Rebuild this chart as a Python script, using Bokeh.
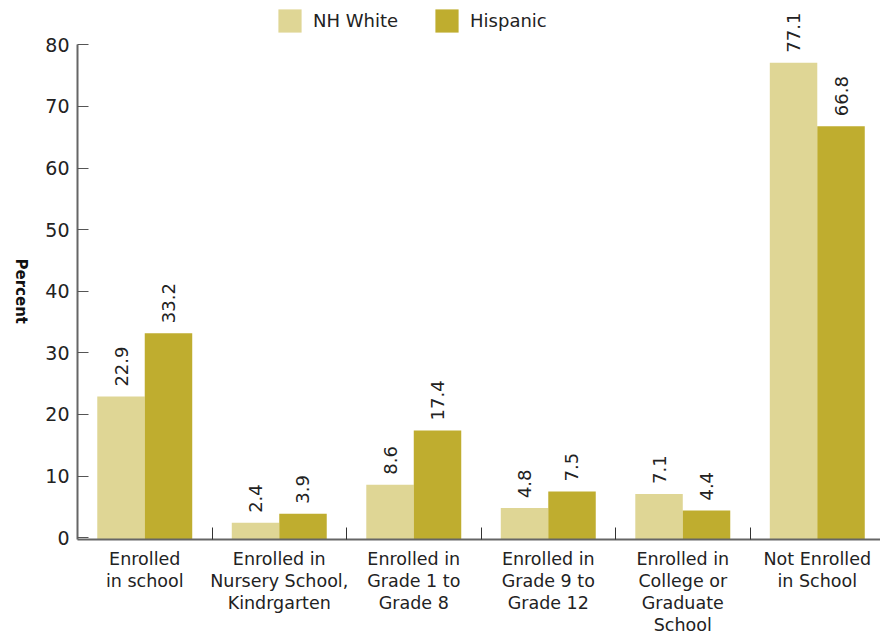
import math
from bokeh.plotting import figure
from bokeh.models import Range1d, FixedTicker, Legend, LegendItem, ColumnDataSource, LabelSet, Label
from bokeh.core.properties import value
from bokeh.embed import file_html
from bokeh.resources import INLINE

categories = ["Enrolled\nin school", "Enrolled in\nNursery School,\nKindrgarten",
              "Enrolled in\nGrade 1 to\nGrade 8", "Enrolled in\nGrade 9 to\nGrade 12",
              "Enrolled in\nCollege or\nGraduate\nSchool", "Not Enrolled\nin School"]
nh_white = [22.9, 2.4, 8.6, 4.8, 7.1, 77.1]
hispanic = [33.2, 3.9, 17.4, 7.5, 4.4, 66.8]
y_ticks = [0, 10, 20, 30, 40, 50, 60, 70, 80]
y_title = "Percent"

FONT = "DejaVu Sans"
C_WHITE = "#DFD695"
C_HISP = "#BFAD2F"
BW = 0.353
Y0 = -0.3
YTOP = 87.2

xs = [i + 0.5 for i in range(len(categories))]

p = figure(frame_width=803, frame_height=539, output_backend="svg", toolbar_location=None,
           x_range=Range1d(0, 5.97), y_range=Range1d(Y0, YTOP),
           min_border_left=77, min_border_right=0, min_border_top=0, min_border_bottom=0)
p.outline_line_color = None
p.grid.grid_line_color = None
p.background_fill_color = "white"

src_w = ColumnDataSource(dict(x=[x - BW / 2 for x in xs], top=nh_white,
                              lab=[f"{v:.1f}" for v in nh_white]))
src_h = ColumnDataSource(dict(x=[x + BW / 2 for x in xs], top=hispanic,
                              lab=[f"{v:.1f}" for v in hispanic]))

r1 = p.vbar(x="x", top="top", bottom=Y0, width=BW, source=src_w, fill_color=C_WHITE, line_color=None)
r2 = p.vbar(x="x", top="top", bottom=Y0, width=BW, source=src_h, fill_color=C_HISP, line_color=None)

for s in (src_w, src_h):
    ls = LabelSet(x="x", y="top", text="lab", source=s, angle=1.5708,
                  text_align="left", text_baseline="middle", y_offset=10,
                  text_font=value(FONT), text_font_size=value("18px"), text_color="#222222")
    p.add_layout(ls)

# axes
xa = p.xaxis[0]
xa.ticker = FixedTicker(ticks=xs, minor_ticks=[1, 2, 3, 4, 5])
xa.major_label_overrides = {x: c for x, c in zip(xs, categories)}
xa.major_tick_in = 0
xa.major_tick_out = 0
xa.minor_tick_in = 12
xa.minor_tick_out = 0
xa.minor_tick_line_color = "#333333"
xa.axis_line_color = "#666666"
xa.axis_line_width = 2
xa.major_label_text_font = FONT
xa.major_label_text_font_size = "17.5px"
xa.major_label_text_color = "#222222"
xa.major_label_standoff = 9
xa.major_label_text_line_height = 1.1

ya = p.yaxis[0]
ya.ticker = FixedTicker(ticks=y_ticks)
ya.bounds = (Y0, 80)
ya.major_tick_in = 11
ya.major_tick_out = 0
ya.minor_tick_line_color = None
ya.major_tick_line_color = "#555555"
ya.axis_line_color = "#666666"
ya.axis_line_width = 2
ya.major_label_text_font = FONT
ya.major_label_text_font_size = "19px"
ya.major_label_text_color = "#222222"
ya.major_label_standoff = 8

# y title reading top to bottom, centred on the drawn axis (0..80), placed in the left panel
ylab = Label(x=-0.4164, y=40.0, x_units="data", y_units="data", text=y_title,
             angle=-math.pi / 2, text_align="center", text_baseline="middle",
             text_font=FONT, text_font_style="bold", text_font_size="15px",
             text_color="#111111")
p.add_layout(ylab, "left")

legend = Legend(items=[LegendItem(label="NH White", renderers=[r1]),
                       LegendItem(label="Hispanic", renderers=[r2])],
                orientation="horizontal", location=(198, 504),
                glyph_width=29, glyph_height=29, label_height=29,
                label_standoff=9, spacing=34, padding=0, margin=0,
                label_text_font=FONT, label_text_font_size="18px", label_text_color="#222222",
                border_line_color=None, background_fill_alpha=0)
p.add_layout(legend)

open("out.html", "w").write(file_html(p, INLINE))
